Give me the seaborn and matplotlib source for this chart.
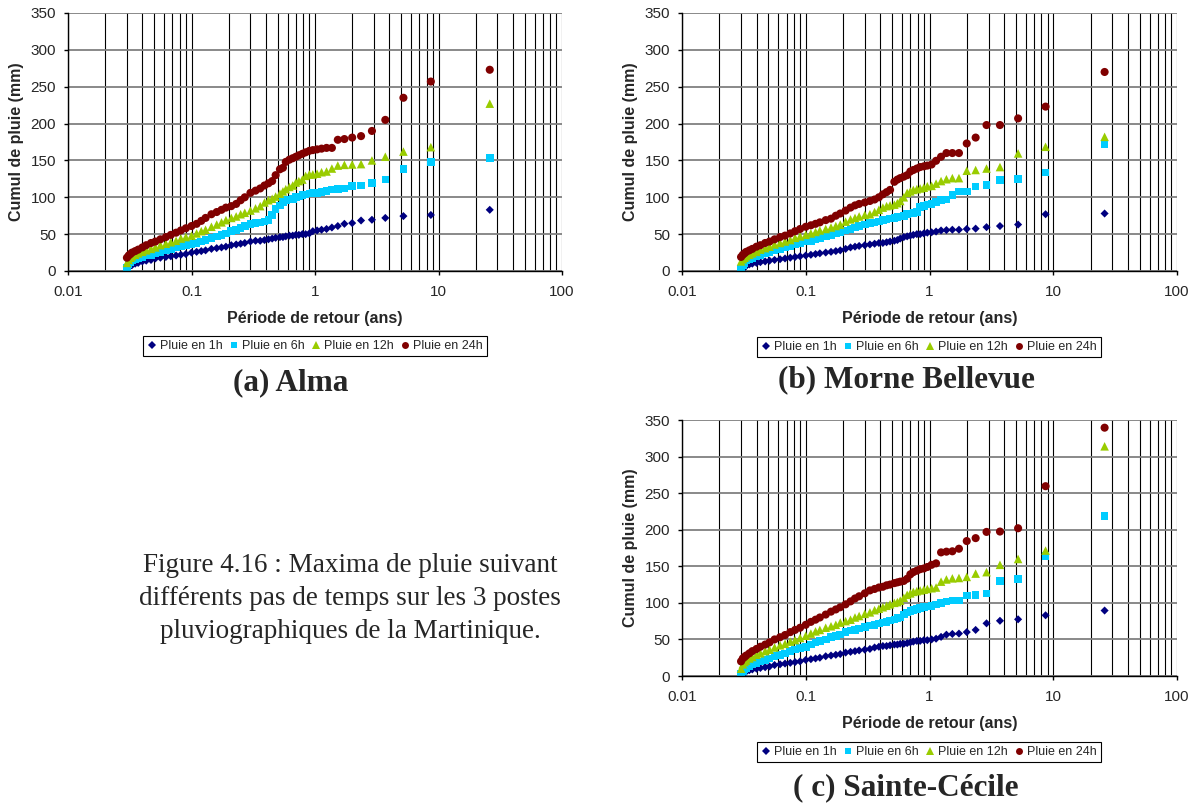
import numpy as np
import pandas as pd
import seaborn as sns
import matplotlib.pyplot as plt
from matplotlib.lines import Line2D
from matplotlib.ticker import FixedLocator, FixedFormatter, LogLocator, NullFormatter

# période de retour (ans), commune à toutes les séries
T = [26.0, 8.67, 5.2, 3.71, 2.89, 2.36, 2.0, 1.73, 1.53, 1.37, 1.24, 1.13, 1.04,
     0.96, 0.90, 0.84, 0.79, 0.74, 0.70, 0.66, 0.62, 0.58, 0.55, 0.52, 0.48,
     0.45, 0.42, 0.39, 0.36, 0.33, 0.30, 0.27, 0.25, 0.23, 0.21, 0.19, 0.175,
     0.16, 0.145, 0.13, 0.12, 0.11, 0.10, 0.09, 0.082, 0.075, 0.068, 0.062,
     0.056, 0.051, 0.047, 0.043, 0.040, 0.037, 0.035, 0.033, 0.032, 0.031, 0.030]

# (a) Alma
alma_1h = [83, 76, 74.5, 72, 69.5, 68.5, 65, 64, 61, 59, 57, 56, 55,
           54, 51, 50, 50, 49, 49, 48, 48, 47, 46, 46, 45, 44, 43, 42, 41, 41, 40,
           38, 37, 36, 35, 33, 32, 31, 30, 28, 27, 26, 25, 23, 22, 21, 20, 19, 18,
           17, 15, 14, 13, 11, 10, 8, 7, 5, 1]
alma_6h = [153, 148, 138, 124, 119, 116, 115, 112, 111, 110.5, 108.5, 107, 106,
           106, 105, 104, 103, 101, 100, 98, 97, 96, 94, 89, 84, 76, 69, 67, 66, 65,
           64, 61, 58, 56, 54, 51, 49, 47, 45, 42, 40, 38, 37, 35, 34, 32, 30, 28,
           26, 24, 22, 21, 19, 18, 16, 14, 12, 9, 5]
alma_12h = [227, 168, 162, 155, 150, 145, 144.5, 144, 143, 139, 135, 134, 132,
            131, 131, 129, 124, 122, 120, 116, 114, 111, 108, 105, 101, 98, 96, 93,
            88, 85, 82, 79, 77, 74, 72, 69, 66, 63, 60, 56, 54, 51, 48, 46, 44, 41,
            39, 37, 35, 32, 30, 28, 26, 24, 22, 20, 18, 15, 11]
alma_24h = [273, 257, 235, 205, 190, 183, 181, 179, 178, 167, 167, 166, 165,
            164, 163, 161, 159, 157, 155, 153, 151, 148, 140, 138, 130, 122, 119,
            116, 112, 109, 106, 100, 96, 91, 88, 86, 83, 80, 77, 72, 68, 64, 61, 58,
            55, 52, 49, 46, 43, 40, 38, 35, 32, 29, 27, 25, 23, 21, 18]

# (b) Morne Bellevue
morne_1h = [78, 77, 63, 61, 59.5, 57.5, 57, 56, 56, 55.5, 55, 53.5, 52.5,
            52, 51, 50, 50, 49, 48, 47, 46, 44, 42, 41, 40, 39, 38, 38, 37, 36, 35,
            34, 33, 32, 30, 28, 27, 26, 25, 24, 23, 22, 21, 20, 19, 18, 17, 16, 15,
            14, 13, 12, 11, 10, 9, 7, 5, 3, 0]
morne_6h = [172, 133.5, 124.5, 123.5, 117, 114.5, 108, 108, 103, 97, 96, 93.5, 91,
            90, 88, 87, 80, 79, 78, 77, 75, 74, 73, 72, 71, 70, 69, 67, 66, 65, 63,
            61, 59, 57, 55, 53, 51, 49, 47, 45, 43, 41, 40, 38, 36, 34, 32, 30, 28,
            26, 24, 22, 20, 18, 16, 14, 11, 8, 3]
morne_12h = [182, 168.5, 159.5, 141, 139, 137, 136, 126, 126, 124.5, 122, 118.5, 115.5,
             115, 113, 112, 111, 110, 108, 106, 100, 95, 92, 90, 89, 88, 86, 83, 80,
             77, 76, 74, 72, 70, 67, 63, 61, 59, 57, 55, 53, 51, 49, 47, 45, 42, 40,
             38, 36, 33, 31, 29, 26, 24, 22, 20, 18, 16, 13]
morne_24h = [270, 223, 207, 198, 198, 181, 173, 160, 160, 160, 155, 149.5, 144.5,
             143, 142, 141, 139, 137, 135, 130, 128, 126, 124, 121, 110, 107, 104,
             100, 97, 95, 93, 91, 89, 86, 82, 78, 75, 71, 69, 66, 64, 62, 60, 57, 54,
             51, 48, 46, 43, 40, 38, 35, 33, 30, 28, 26, 24, 22, 19]

# (c) Sainte-Cécile
cecile_1h = [89.5, 83, 77.5, 75.5, 72, 63, 60, 58, 57.5, 56.5, 53.5, 51, 50,
             49, 49, 48, 48, 47, 46, 45, 44, 44, 43, 43, 42, 41, 41, 40, 39, 37, 36,
             35, 34, 33, 32, 30, 29, 28, 27, 25, 24, 23, 22, 20, 19, 18, 17, 16, 15,
             13, 12, 11, 10, 9, 8, 6, 5, 3, 0]
cecile_6h = [219, 164, 132.5, 130, 113, 111, 110, 103, 103, 102, 100, 97.5, 96,
             95, 94, 93, 92, 90, 89, 87, 84, 80, 79, 77, 76, 74, 73, 72, 70, 69, 67,
             65, 63, 62, 60, 57, 55, 53, 50, 48, 46, 43, 40, 38, 36, 34, 31, 29, 27,
             24, 22, 20, 18, 16, 14, 11, 9, 6, 3]
cecile_12h = [314, 171.5, 160, 152, 142, 140, 135.5, 134, 133.5, 132, 129, 121, 120,
              119, 118, 117, 116, 115, 113, 111, 107, 103, 101, 100, 98, 96, 94, 92,
              90, 87, 85, 82, 80, 77, 75, 73, 70, 68, 66, 63, 61, 58, 55, 52, 49, 47,
              44, 42, 39, 36, 34, 31, 29, 26, 24, 21, 19, 16, 10]
cecile_24h = [339.5, 259.5, 202, 197.5, 197, 188.5, 184.5, 174, 170.5, 170, 169, 154, 152,
              149, 147, 146, 144, 142, 139, 133, 130, 129, 128, 127, 125, 124, 122,
              121, 119, 117, 113, 109, 106, 102, 98, 94, 91, 88, 84, 80, 77, 74, 70,
              66, 63, 60, 56, 53, 50, 46, 43, 40, 37, 34, 31, 28, 26, 24, 20]

series = ['Pluie en 1h', 'Pluie en 6h', 'Pluie en 12h', 'Pluie en 24h']
couleurs = {'Pluie en 1h': '#000080', 'Pluie en 6h': '#00CCFF',
            'Pluie en 12h': '#99CC00', 'Pluie en 24h': '#800000'}
marqueurs = {'Pluie en 1h': 'D', 'Pluie en 6h': 's',
             'Pluie en 12h': '^', 'Pluie en 24h': 'o'}
tailles = {'Pluie en 1h': 17, 'Pluie en 6h': 30, 'Pluie en 12h': 38, 'Pluie en 24h': 34}
tailles_leg = {'Pluie en 1h': 3.6, 'Pluie en 6h': 4.8, 'Pluie en 12h': 5.4, 'Pluie en 24h': 5.0}

sns.set_style('white')
plt.rcParams['font.family'] = ['Liberation Sans', 'DejaVu Sans']

W, H = 1196, 805
fig = plt.figure(figsize=(W / 100, H / 100), dpi=100)


def panneau(x0, y0, x1, y1, valeurs, leg_xy):
    ax = fig.add_axes([x0 / W, 1 - y1 / H, (x1 - x0) / W, (y1 - y0) / H])
    df = pd.DataFrame({'T': T * 4,
                       'mm': sum(valeurs, []),
                       'serie': np.repeat(series, len(T))})
    sns.scatterplot(data=df, x='T', y='mm', hue='serie', style='serie', size='serie',
                    palette=couleurs, markers=marqueurs, sizes=tailles,
                    linewidth=0, legend=False, ax=ax)
    ax.set_xscale('log')
    ax.set_xlim(0.01, 100)
    ax.set_ylim(0, 350)
    ax.xaxis.set_major_locator(FixedLocator([0.01, 0.1, 1, 10, 100]))
    ax.xaxis.set_major_formatter(FixedFormatter(['0.01', '0.1', '1', '10', '100']))
    ax.xaxis.set_minor_locator(LogLocator(base=10, subs=np.arange(2, 10), numticks=20))
    ax.xaxis.set_minor_formatter(NullFormatter())
    ax.set_yticks(range(0, 351, 50))
    ax.set_axisbelow(True)
    ax.grid(axis='x', which='both', color='black', lw=0.8)
    ax.grid(axis='y', which='major', color='#808080', lw=1.3)
    ax.tick_params(which='major', direction='out', length=3, width=1,
                   color='black', labelsize=11, left=True, bottom=True)
    ax.tick_params(axis='x', which='major', pad=7)
    ax.tick_params(axis='y', pad=5.5)
    ax.tick_params(which='minor', length=0)
    for c in ['top', 'right']:
        ax.spines[c].set_visible(False)
    for c in ['left', 'bottom']:
        ax.spines[c].set_color('black')
        ax.spines[c].set_linewidth(1)
    ax.set_xlabel('Période de retour (ans)', fontsize=11.5, fontweight='bold')
    ax.set_ylabel('Cumul de pluie (mm)', fontsize=11.5, fontweight='bold')
    ax.xaxis.set_label_coords(0.5, -40 / (y1 - y0))
    ax.yaxis.set_label_coords(-44 / (x1 - x0), 0.5)

    handles = [Line2D([], [], ls='none', marker=marqueurs[s], color=couleurs[s],
                      markersize=tailles_leg[s], markeredgewidth=0) for s in series]
    leg = fig.legend(handles, series, loc='center',
                     bbox_to_anchor=(leg_xy[0] / W, 1 - leg_xy[1] / H),
                     ncol=4, fontsize=9, frameon=True, fancybox=False,
                     edgecolor='black', framealpha=1, handlelength=0.8,
                     handletextpad=0.25, columnspacing=0.5, borderpad=0.3)
    leg.get_frame().set_linewidth(0.8)
    return ax


panneau(68, 13, 562, 271, [alma_1h, alma_6h, alma_12h, alma_24h], (315, 346))
panneau(682, 13, 1177, 271, [morne_1h, morne_6h, morne_12h, morne_24h], (929, 347))
panneau(682, 420, 1177, 676, [cecile_1h, cecile_6h, cecile_12h, cecile_24h], (929, 752))

# légendes des sous-figures
titre = dict(ha='center', va='center', family=['Liberation Serif', 'DejaVu Serif'],
             fontweight='bold', fontsize=22.5)
fig.text(291 / W, 1 - 383 / H, '(a) Alma', **titre)
fig.text(906 / W, 1 - 380 / H, '(b) Morne Bellevue', **titre)
fig.text(906 / W, 1 - 788 / H, '( c) Sainte-Cécile', **titre)

texte = ['Figure 4.16 : Maxima de pluie suivant',
         'différents pas de temps sur les 3 postes',
         'pluviographiques de la Martinique.']
for i, ligne in enumerate(texte):
    fig.text(350 / W, 1 - (565 + 33 * i) / H, ligne, ha='center', va='center',
             family=['Liberation Serif', 'DejaVu Serif'], fontsize=19.5)

fig.savefig('out.png', dpi=100)
